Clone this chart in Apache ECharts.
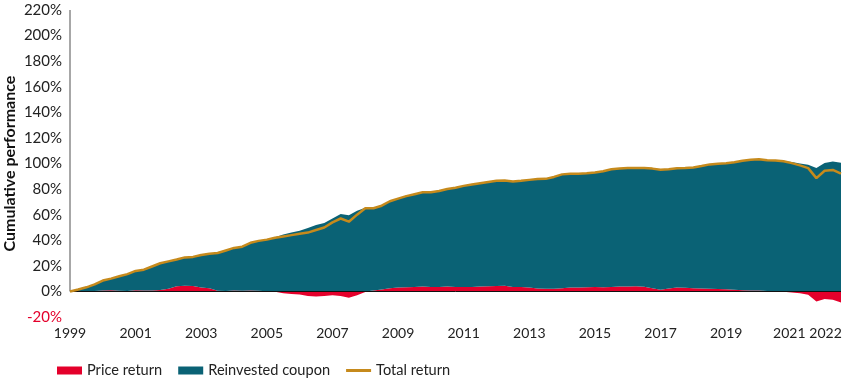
<!DOCTYPE html>
<html>
<head>
<meta charset="utf-8">
<script src="https://cdn.jsdelivr.net/npm/echarts@6/dist/echarts.min.js"></script>
<style>
html,body{margin:0;padding:0;background:#fff;}
#chart{width:850px;height:382px;}
</style>
</head>
<body>
<div id="chart"></div>
<script>
// Quarterly observations, 1999 Q1 .. 2022 Q3
const years = [1999,2000,2001,2002,2003,2004,2005,2006,2007,2008,2009,2010,2011,2012,2013,2014,2015,2016,2017,2018,2019,2020,2021,2022];
const quarters = ['Q1','Q2','Q3','Q4'];
const tickLabels = ['1999','2001','2003','2005','2007','2009','2011','2013','2015','2017','2019','2021','2022'];
const yTicks = [-20,0,20,40,60,80,100,120,140,160,180,200,220];

const priceReturn = [
  0, -0.5, -0.5, 0.3,
  0.8, 1, 0.5, 0.3,
  1, 0.8, 0.8, 1.2,
  2, 4, 4.5, 4.3,
  3, 2.5, 0.5, 0.3,
  0.8, 0.5, 0.8, 0.5,
  0.2, -0.3, -1.5, -2,
  -2.5, -3.5, -4, -3.5,
  -3, -3.5, -5, -3,
  -0.5, 0.8, 1.5, 2.5,
  3, 3.3, 3.5, 3.8,
  3.5, 3.5, 3.8, 3.5,
  3.5, 3.5, 3.8, 4,
  4.3, 4.5, 3.5, 3.5,
  3, 2.3, 2, 2,
  2.5, 3, 3, 3.2,
  3.5, 3.3, 3.5, 3.8,
  3.8, 4, 3.6, 2.5,
  1.3, 2.3, 3, 2.8,
  2.5, 2.3, 2, 1.8,
  1.6, 1.3, 1, 0.8,
  0.7, 0.4, 0.1, -0.2,
  -0.8, -1.5, -2.6, -7.8,
  -6, -6.5, -8.6
];

const reinvestedCoupon = [
  0, 2.0, 3.7, 5.2,
  7.7, 9, 11.3, 13.2,
  15, 16.2, 18.7, 20.8,
  21.5, 21, 22.1, 22.7,
  25.5, 27, 29.5, 31.7,
  33.2, 34.5, 37.2, 39,
  40.3, 42.3, 44.5, 46,
  47.5, 49.5, 52, 53.5,
  57, 60.5, 59.5, 63,
  65.5, 64.2, 65.5, 68,
  69.5, 71.2, 72.5, 73.7,
  74, 75, 76.2, 77.5,
  79, 80, 80.7, 81.5,
  82.2, 82.3, 82.5, 83,
  84.2, 85.5, 86, 87.5,
  89, 89, 89, 89.1,
  89.5, 90.7, 92, 92.2,
  92.6, 92.5, 92.8, 93.5,
  93.9, 93.2, 93.3, 93.7,
  94.3, 95.7, 97.3, 98,
  98.6, 99.7, 101.2, 102.2,
  102.7, 102.1, 102.3, 102,
  101.1, 100, 99, 96.4,
  100.3, 101.5, 100.6
];

const totalReturn = [
  0, 1.5, 3.2, 5.5,
  8.5, 10, 11.8, 13.5,
  16, 17, 19.5, 22,
  23.5, 25, 26.6, 27,
  28.5, 29.5, 30, 32,
  34, 35, 38, 39.5,
  40.5, 42, 43, 44,
  45, 46, 48, 50,
  54, 57, 54.5, 60,
  65, 65, 67, 70.5,
  72.5, 74.5, 76, 77.5,
  77.5, 78.5, 80, 81,
  82.5, 83.5, 84.5, 85.5,
  86.5, 86.8, 86, 86.5,
  87.2, 87.8, 88, 89.5,
  91.5, 92, 92, 92.3,
  93, 94, 95.5, 96,
  96.4, 96.5, 96.4, 96,
  95.2, 95.5, 96.3, 96.5,
  96.8, 98, 99.3, 99.8,
  100.2, 101, 102.2, 103,
  103.4, 102.5, 102.4, 101.8,
  100.3, 98.5, 96.4, 88.6,
  94.3, 95, 92
];

const categories = [];
years.forEach(y => quarters.forEach(q => { if (categories.length < totalReturn.length) categories.push(y + ' ' + q); }));

const RED = '#e4002b', TEAL = '#0a6275', GOLD = '#c68a1c';
const FONT = 'Lato';

const chart = echarts.init(document.getElementById('chart'));
chart.setOption({
  animation: false,
  textStyle: { fontFamily: FONT },
  grid: { left: 70, right: 9, top: 10, bottom: 65, containLabel: false, outerBoundsMode: 'none' },
  legend: {
    top: 363, left: 57, padding: 0,
    itemWidth: 25, itemHeight: 8, itemGap: 16,
    symbolKeepAspect: true,
    textStyle: { fontFamily: FONT, fontSize: 14.6, color: '#222' },
    data: [
      { name: 'Price return', icon: 'rect' },
      { name: 'Reinvested coupon', icon: 'rect' },
      { name: 'Total return', icon: 'path://M0,0H25V3H0Z' }
    ]
  },
  xAxis: {
    type: 'category',
    data: categories,
    boundaryGap: false,
    axisLine: { show: false },
    axisTick: { show: false },
    splitLine: { show: false },
    axisLabel: {
      interval: (i, v) => v.endsWith('Q1') && tickLabels.includes(v.slice(0, 4)),
      formatter: v => {
        const y = v.slice(0, 4);
        if (y === '2021') return '{l|' + y + '}';
        if (y === '2022') return '{r|' + y + '}';
        return y;
      },
      rich: {
        l: { fontSize: 14, color: '#222', fontFamily: FONT, padding: [0, 5, 0, 0] },
        r: { fontSize: 14, color: '#222', fontFamily: FONT, padding: [0, 0, 0, 2] }
      },
      fontSize: 14, color: '#222', margin: 9, fontFamily: FONT,
      hideOverlap: false, showMinLabel: true, showMaxLabel: true, minMargin: 0
    }
  },
  yAxis: {
    type: 'value',
    min: -20, max: 220, interval: 20,
    name: 'Cumulative performance',
    nameLocation: 'middle',
    nameGap: 52,
    nameMoveOverlap: false,
    nameTextStyle: { fontSize: 16, fontWeight: 'bold', color: '#111', fontFamily: FONT },
    axisLine: { show: false },
    axisTick: { show: false },
    splitLine: { show: false },
    axisLabel: {
      margin: 8, fontSize: 15, fontFamily: FONT,
      formatter: v => yTicks.includes(v) ? v + '%' : '',
      color: v => (v < 0 ? RED : '#222')
    }
  },
  series: [
    {
      name: 'Price return', type: 'line', stack: 'perf',
      data: priceReturn, symbol: 'none', showSymbol: false,
      lineStyle: { width: 0, color: RED }, itemStyle: { color: RED },
      areaStyle: { color: RED, opacity: 1 }, z: 2
    },
    {
      name: 'Reinvested coupon', type: 'line', stack: 'perf',
      data: reinvestedCoupon, symbol: 'none', showSymbol: false,
      lineStyle: { width: 0, color: TEAL }, itemStyle: { color: TEAL },
      areaStyle: { color: TEAL, opacity: 1 }, z: 3,
      markLine: {
        silent: true, symbol: 'none', label: { show: false },
        data: [
          { yAxis: 0, lineStyle: { color: '#111', width: 1, type: 'solid' } },
          [ { coord: [categories[0], 0], lineStyle: { color: '#8a8a8a', width: 1.5, type: 'solid' } },
            { coord: [categories[0], 220] } ]
        ]
      }
    },
    {
      name: 'Total return', type: 'line',
      data: totalReturn, symbol: 'none', showSymbol: false,
      lineStyle: { width: 2.5, color: GOLD }, itemStyle: { color: GOLD }, z: 5
    }
  ]
});
</script>
</body>
</html>
